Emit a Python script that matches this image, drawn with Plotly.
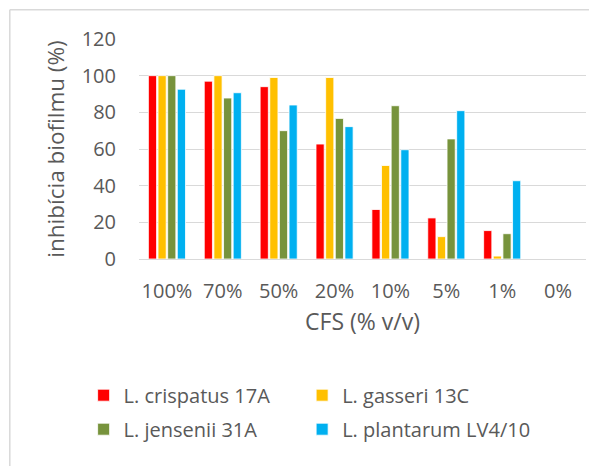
import plotly.graph_objects as go

categories = ["100%", "70%", "50%", "20%", "10%", "5%", "1%", "0%"]
series_names = ["L. crispatus 17A", "L. gasseri 13C", "L. jensenii 31A", "L. plantarum LV4/10"]
crispatus = [100, 97, 94, 62.7, 27, 22.4, 15.5, 0]
gasseri = [100, 100, 99, 99, 51, 12.2, 1.6, 0]
jensenii = [100, 87.8, 70, 76.7, 83.6, 65.5, 13.8, 0]
plantarum = [92.6, 90.7, 84, 72.2, 59.6, 80.9, 42.7, 0]
y_ticks = [0, 20, 40, 60, 80, 100, 120]
y_title = "inhibícia biofilmu (%)"
x_title = "CFS (% v/v)"

colors = ["#FF0000", "#FFC000", "#77933C", "#00B0F0"]
values = [crispatus, gasseri, jensenii, plantarum]
legend_ids = ["legend", "legend2", "legend3", "legend4"]

FONT = "Open Sans"
GRAY = "#595959"
GRID = "#D9D9D9"

# page body has an 8px margin; work in reference coordinates and subtract it
OFF = 8
W, H = 597 - OFF, 466 - OFF
L, R, T, B = 138.5 - OFF, 18.5 - OFF, 39.3 - OFF, 206.7
pw, ph = W - L - R, H - T - B


def px(x):
    return (x - OFF - L) / pw


def py(y):
    return (H - B - (y - OFF)) / ph


fig = go.Figure()
for name, vals, col, lg in zip(series_names, values, colors, legend_ids):
    fig.add_trace(go.Bar(
        x=categories, y=vals, name=name, legend=lg,
        marker=dict(color=col, line=dict(color="white", width=0.8)),
    ))

legend_common = dict(
    orientation="h", xanchor="left", yanchor="top",
    font=dict(size=20, color=GRAY, family=FONT),
    bgcolor="rgba(0,0,0,0)",
)
legend_pos = {
    "legend": (83, 376),
    "legend2": (302, 376),
    "legend3": (83, 410),
    "legend4": (302, 410),
}

fig.update_layout(
    width=W, height=H,
    margin=dict(l=L, r=R, t=T, b=B, autoexpand=False),
    paper_bgcolor="white", plot_bgcolor="white",
    barmode="group", bargap=0.31, bargroupgap=0.15,
    font=dict(family=FONT, color=GRAY, size=20),
    showlegend=True,
    xaxis=dict(
        showgrid=False, showline=False, zeroline=False,
        ticks="outside", ticklen=14, tickcolor="rgba(0,0,0,0)",
        tickfont=dict(size=20, color=GRAY, family=FONT),
        title=dict(text=x_title, font=dict(size=23, color=GRAY, family=FONT), standoff=10),
        fixedrange=True,
    ),
    yaxis=dict(
        range=[0, 120], tickvals=y_ticks, showgrid=True, gridcolor=GRID, gridwidth=1.3,
        zeroline=True, zerolinecolor=GRID, zerolinewidth=1.3, showline=False,
        ticks="outside", ticklen=18, tickcolor="rgba(0,0,0,0)",
        tickfont=dict(size=20, color=GRAY, family=FONT),
        title=dict(text=y_title, font=dict(size=22.5, color=GRAY, family=FONT), standoff=10),
        fixedrange=True,
    ),
    shapes=[
        dict(type="line", xref="paper", yref="paper", x0=px(9), x1=px(600), y0=py(10), y1=py(10),
             line=dict(color=GRID, width=1.5)),
        dict(type="line", xref="paper", yref="paper", x0=px(9), x1=px(9), y0=py(10), y1=py(470),
             line=dict(color=GRID, width=1.5)),
    ],
)
for lg, (lx, ly) in legend_pos.items():
    fig.update_layout({lg: dict(x=px(lx), y=py(ly), **legend_common)})

fig.write_html("out.html")
